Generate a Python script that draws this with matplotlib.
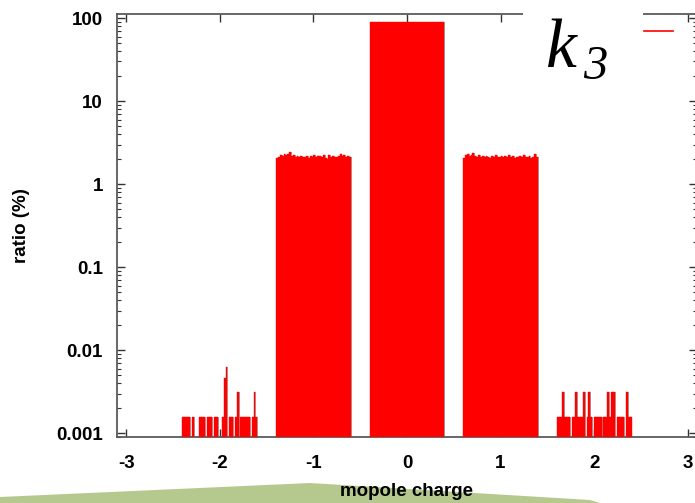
import numpy as np
import matplotlib
matplotlib.use("Agg")
import matplotlib.pyplot as plt
from matplotlib.patches import Polygon, Rectangle
from matplotlib.lines import Line2D
from matplotlib.ticker import FixedLocator, FuncFormatter, LogLocator, NullFormatter

# monopole charge histogram, ratio (%) per bin of width 0.02
CHARGES = [-3, -2, -1, 0, 1, 2, 3]
Y_TICKS = [0.001, 0.01, 0.1, 1, 10, 100]
BIN = 0.02
CENTER_RATIO = 90.0   # charge 0 (one wide bar)

ONE_MINUS = [2.06, 2.12, 2.25, 2.20, 2.28, 2.22, 2.30, 2.42, 2.20, 2.25,
             2.15, 2.18, 2.12, 2.20, 2.15, 2.10, 2.18, 2.05, 2.20, 2.15,
             2.25, 2.12, 2.18, 2.20, 2.15, 2.22, 2.05, 2.00, 2.25, 2.12,
             2.20, 2.15, 2.10, 2.18, 2.28, 2.20, 2.25, 2.10, 2.20, 2.15]
ONE_PLUS = [2.05, 2.25, 2.30, 2.20, 2.25, 2.35, 2.20, 2.15, 2.25, 2.10,
            2.20, 2.12, 2.18, 2.15, 2.05, 2.20, 2.10, 2.25, 2.15, 2.12,
            2.20, 2.10, 2.18, 2.15, 2.25, 2.10, 2.20, 2.05, 2.15, 2.10,
            2.20, 2.12, 2.25, 2.15, 2.10, 2.20, 2.05, 2.15, 2.28, 2.10]
TWO_MINUS = [0.00155, 0.00155, 0.00155, 0.00155, 0, 0.00155, 0, 0, 0, 0.00155,
             0.00155, 0.00155, 0, 0.00155, 0.00155, 0.00155, 0, 0.00155, 0.00155, 0,
             0, 0.00155, 0.0046, 0.0062, 0, 0.00155, 0.00155, 0, 0.00155, 0.0031,
             0, 0.00155, 0.00155, 0.00155, 0.00155, 0.00155, 0, 0.00155, 0.0031, 0.00155]
TWO_PLUS = [0.00155, 0.00155, 0.00155, 0.0031, 0.00155, 0.00155, 0.00155, 0, 0.00155, 0.00155,
            0.0031, 0.00155, 0.00155, 0.00155, 0.0031, 0, 0.00155, 0.0031, 0.00155, 0,
            0.00155, 0.00155, 0.00155, 0.00155, 0, 0.00155, 0.00155, 0.0031, 0.00155, 0.0031,
            0.0031, 0, 0.00155, 0.00155, 0.00155, 0.00155, 0, 0.0031, 0.00155, 0.00155]

RED = "#ff0000"
GREY = "#a8a8a8"
SPINE = "#5a5a5a"
FONT = {"family": "Liberation Sans", "weight": "bold", "size": 13.5}

plt.rcParams["axes.unicode_minus"] = False

W, H = 695, 503
fig = plt.figure(figsize=(W / 100, H / 100), dpi=100)
ax = fig.add_axes([117 / W, 1 - 437 / H, (697 - 117) / W, (437 - 14) / H])
ax.set_yscale("log")

# histogram bins
for c, vals in [(-2, TWO_MINUS), (-1, ONE_MINUS), (1, ONE_PLUS), (2, TWO_PLUS)]:
    x = c - 0.39 + BIN * np.arange(len(vals))
    v = np.array(vals)
    m = v > 0
    ax.bar(x[m] + 0.01, v[m], width=BIN, color=GREY, linewidth=0, zorder=2)
    ax.bar(x[m], v[m], width=BIN, color=RED, edgecolor=RED, linewidth=0.3, zorder=3)

ax.bar(0.01, CENTER_RATIO, width=0.8, color=GREY, linewidth=0, zorder=2)
ax.bar(0, CENTER_RATIO, width=0.8, color=RED, edgecolor=RED, linewidth=0.3, zorder=3)

ax.set_xlim(-3.1, 3.1)
ax.set_ylim(9e-4, 112)
ax.set_xticks(CHARGES)
ax.yaxis.set_major_locator(FixedLocator(Y_TICKS))
ax.yaxis.set_major_formatter(FuncFormatter(lambda v, p: f"{v:g}"))
ax.yaxis.set_minor_locator(LogLocator(subs=np.arange(2, 10)))
ax.yaxis.set_minor_formatter(NullFormatter())

ax.tick_params(which="both", direction="in", top=True, right=True, color="#333333")
ax.tick_params(which="major", length=6, width=1)
ax.tick_params(which="minor", length=3, width=0.8)
ax.tick_params(axis="x", pad=13)
ax.tick_params(axis="y", pad=10)
for lbl in ax.get_xticklabels() + ax.get_yticklabels():
    lbl.set_fontproperties(FONT)

for s in ax.spines.values():
    s.set_color(SPINE)
    s.set_linewidth(1.3)

ax.set_xlabel("mopole charge", fontdict=FONT, labelpad=8)
ax.set_ylabel("ratio (%)", fontdict=FONT, labelpad=19)

# slide decoration: green strip at the bottom
pts = [(0, 503), (0, 497), (310, 483), (590, 500), (600, 503)]
fig.add_artist(Polygon([(px / W, 1 - py / H) for px, py in pts], closed=True,
                       facecolor="#b5c98f", edgecolor="none",
                       transform=fig.transFigure, zorder=-1))

# white box with the k_3 overlay
fig.add_artist(Rectangle((523 / W, 1 - 85 / H), 120 / W, 85 / H,
                         facecolor="white", edgecolor="none",
                         transform=fig.transFigure, zorder=5))
fig.text(546 / W, 1 - 67 / H, "k", fontsize=50, family="Liberation Serif",
         style="italic", ha="left", va="baseline", zorder=6)
fig.text(583 / W, 1 - 79 / H, "3", fontsize=35, family="Liberation Serif",
         style="italic", ha="left", va="baseline", zorder=6)

# legend sample (labels fall outside the picture)
fig.add_artist(Line2D([644 / W, 673 / W], [1 - 31 / H] * 2, color=RED,
                      linewidth=1.2, transform=fig.transFigure, zorder=6))

fig.savefig("out.png", dpi=100)
